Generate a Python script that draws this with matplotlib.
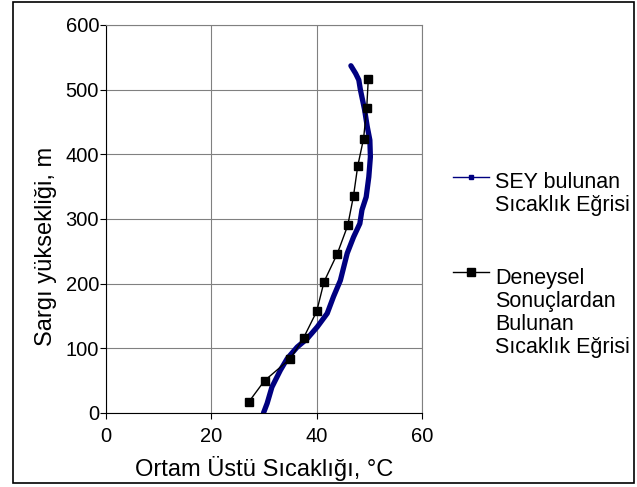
import numpy as np
import matplotlib
matplotlib.use("Agg")
import matplotlib.pyplot as plt
from matplotlib.patches import Rectangle

plt.rcParams["font.family"] = ["Liberation Sans", "DejaVu Sans"]

# DATA

# SEY curve (blue)
sey_temp = [29.9, 30.6, 31.5, 33.1, 34.4, 36.3, 38.2, 40.1, 42.0, 43.2, 44.5,
            45.8, 47.0, 48.2, 48.6, 49.4, 49.9, 50.2, 50.1, 49.6, 49.1, 48.3,
            48.0, 47.4, 46.5]
sey_height = [0, 15, 40, 66, 84, 102, 115, 133, 154, 180, 205,
              247, 272, 293, 314, 334, 365, 396, 422, 443, 469, 500,
              515, 525, 537]

# experimental curve (black squares)
exp_temp = [27.1, 30.1, 35.0, 37.5, 40.0, 41.4, 43.9, 45.9, 47.0, 47.8, 48.9, 49.5, 49.8]
exp_height = [17, 50, 84, 116, 157, 203, 246, 290, 336, 382, 424, 471, 516]

x_ticks = [0, 20, 40, 60]
y_ticks = [0, 100, 200, 300, 400, 500, 600]

sey_label = "SEY bulunan\nSıcaklık Eğrisi"
exp_label = "Deneysel\nSonuçlardan\nBulunan\nSıcaklık Eğrisi"

# PLOT

W, H = 637, 487
fig = plt.figure(figsize=(W / 100, H / 100), dpi=100)
ax = fig.add_axes([106 / W, 1 - 413 / H, 316 / W, 388 / H])

ax.plot(sey_temp, sey_height, color="#000080", linewidth=3.8,
        solid_capstyle="round")
ax.plot(exp_temp, exp_height, color="black", linewidth=1, marker="s",
        markersize=5.5)

ax.set_xlim(0, 60)
ax.set_ylim(0, 600)
ax.set_xticks(x_ticks)
ax.set_yticks(y_ticks)
ax.grid(True, color="#808080", linewidth=0.8)
ax.set_axisbelow(True)
for s in ["top", "right"]:
    ax.spines[s].set_color("#808080")
ax.spines["left"].set_color("black")
ax.spines["bottom"].set_color("black")
ax.tick_params(direction="out", length=4, labelsize=14.5, width=0.8)
ax.tick_params(axis="y", pad=1)
ax.tick_params(axis="x", pad=6)

ax.set_xlabel("Ortam Üstü Sıcaklığı, °C", fontsize=17, labelpad=7)
ax.set_ylabel("Sargı yüksekliği, m", fontsize=17)
ax.yaxis.set_label_coords(-0.155, 0.43)

# legend drawn by hand so the handle sits beside the first line
fig.text(495 / W, 1 - 194 / H, sey_label, fontsize=15.5,
         va="center", ha="left", linespacing=1.12)
fig.text(495 / W, 1 - 313 / H, exp_label, fontsize=15.5,
         va="center", ha="left", linespacing=1.12)
fig.add_artist(plt.Line2D([453 / W, 489 / W], [1 - 177 / H] * 2,
                          color="#000080", linewidth=1, transform=fig.transFigure))
fig.add_artist(plt.Line2D([471 / W], [1 - 177 / H], color="#000080", marker="s",
                          markersize=2.5, transform=fig.transFigure))
fig.add_artist(plt.Line2D([453 / W, 489 / W], [1 - 272 / H] * 2,
                          color="black", linewidth=1, transform=fig.transFigure))
fig.add_artist(plt.Line2D([471 / W], [1 - 272 / H], color="black", marker="s",
                          markersize=5.5, transform=fig.transFigure))

# outer chart border
fig.add_artist(Rectangle((13 / W, 1 - 483 / H), 621 / W, 481 / H, fill=False,
                         edgecolor="black", linewidth=1.2, transform=fig.transFigure))

fig.savefig("out.png", dpi=100)
